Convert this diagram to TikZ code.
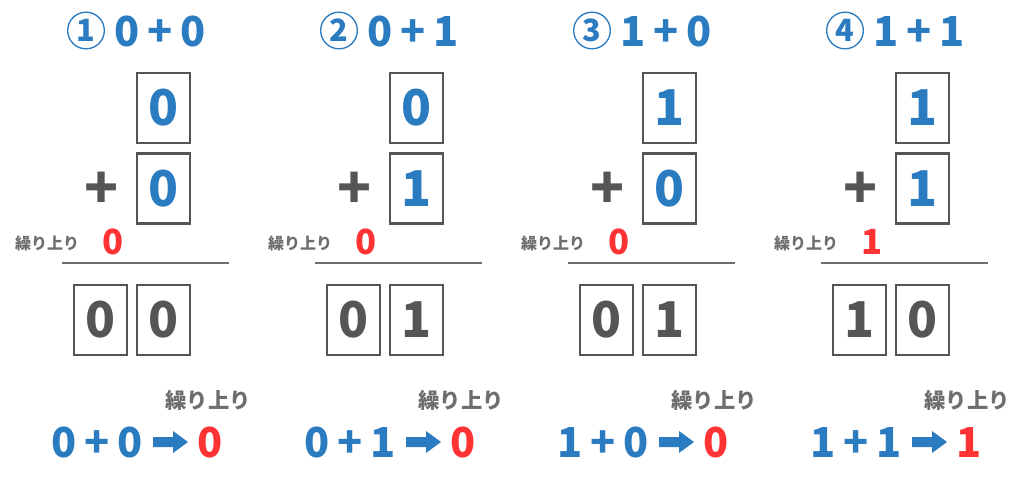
\documentclass[tikz,border=0pt]{standalone}
\usepackage{fontspec}
\setmainfont{Noto Sans CJK JP}
\usepackage{tikz}
\definecolor{bitblue}{RGB}{42,123,192}
\definecolor{bitred}{RGB}{255,51,51}
\definecolor{boxgray}{RGB}{85,85,85}
\definecolor{labelgray}{RGB}{110,110,110}
\newcommand{\tgap}{\hspace{6pt}}
\newcommand{\egap}{\hspace{6pt}}

\begin{document}
\begin{tikzpicture}[x=0.75pt, y=-0.75pt,
	num/.style={draw=bitblue, circle, line width=1pt, minimum size=27.5pt, inner sep=0pt, text=bitblue, font=\bfseries\fontsize{23}{23}\selectfont},
	title/.style={anchor=west, inner sep=0pt, text=bitblue, font=\bfseries\fontsize{31}{31}\selectfont},
	box/.style={draw=boxgray, line width=2.2pt, minimum width=39.75pt, minimum height=52.5pt, inner sep=0pt, font=\bfseries\fontsize{37}{37}\selectfont},
	bit/.style={box, text=bitblue},
	res/.style={box, text=boxgray},
	plus/.style={inner sep=0pt, text=boxgray, font=\bfseries\fontsize{42}{42}\selectfont},
	small/.style={inner sep=0pt, text=labelgray, font=\bfseries\fontsize{12}{12}\selectfont},
	big/.style={inner sep=0pt, text=labelgray, font=\bfseries\fontsize{16}{16}\selectfont},
	carry/.style={inner sep=0pt, text=bitred, font=\bfseries\fontsize{26}{26}\selectfont},
	eq/.style={inner sep=0pt, text=bitblue, font=\bfseries\fontsize{31}{31}\selectfont},
	sum/.style={inner sep=0pt, text=bitred, font=\bfseries\fontsize{31}{31}\selectfont},
	rule/.style={draw=labelgray, line width=1.5pt}]
	\useasboundingbox (0,0) rectangle (1024,477);

	% 0 + 0
	\node[num] (c1) at (86,30.5) {1};
	\node[title] (t1) at (114,31) {0\tgap+\tgap0};
	\node[bit] (a1) at (163.5,108) {0};
	\node[bit] (b1) at (163.5,188.5) {0};
	\node[plus] (p1) at (102,190) {+};
	\node[small] (k1) at (47,243) {繰り上り};
	\node[carry] (r1) at (113,242) {0};
	\coordinate (l1) at (62,263);
	\coordinate (m1) at (229,263);
	\node[res] (s1) at (100.5,320) {0};
	\node[res] (u1) at (163.5,320) {0};
	\node[big] (g1) at (208,400) {繰り上り};
	\node[eq] (e1) at (97,442) {0\egap+\egap0};
	\node[sum] (o1) at (210,442) {0};
	\draw[rule] (l1) -- (m1);
	\fill[bitblue] (153,437) -- (173,437) -- (173,431) -- (188,442) -- (173,453) -- (173,447) -- (153,447) -- cycle;

	% 0 + 1
	\node[num] (c2) at (339,30.5) {2};
	\node[title] (t2) at (367,31) {0\tgap+\tgap1};
	\node[bit] (a2) at (416.5,108) {0};
	\node[bit] (b2) at (416.5,188.5) {1};
	\node[plus] (p2) at (355,190) {+};
	\node[small] (k2) at (300,243) {繰り上り};
	\node[carry] (r2) at (366,242) {0};
	\coordinate (l2) at (315,263);
	\coordinate (m2) at (482,263);
	\node[res] (s2) at (353.5,320) {0};
	\node[res] (u2) at (416.5,320) {1};
	\node[big] (g2) at (461,400) {繰り上り};
	\node[eq] (e2) at (350,442) {0\egap+\egap1};
	\node[sum] (o2) at (463,442) {0};
	\draw[rule] (l2) -- (m2);
	\fill[bitblue] (406,437) -- (426,437) -- (426,431) -- (441,442) -- (426,453) -- (426,447) -- (406,447) -- cycle;

	% 1 + 0
	\node[num] (c3) at (592,30.5) {3};
	\node[title] (t3) at (620,31) {1\tgap+\tgap0};
	\node[bit] (a3) at (669.5,108) {1};
	\node[bit] (b3) at (669.5,188.5) {0};
	\node[plus] (p3) at (608,190) {+};
	\node[small] (k3) at (553,243) {繰り上り};
	\node[carry] (r3) at (619,242) {0};
	\coordinate (l3) at (568,263);
	\coordinate (m3) at (735,263);
	\node[res] (s3) at (606.5,320) {0};
	\node[res] (u3) at (669.5,320) {1};
	\node[big] (g3) at (714,400) {繰り上り};
	\node[eq] (e3) at (603,442) {1\egap+\egap0};
	\node[sum] (o3) at (716,442) {0};
	\draw[rule] (l3) -- (m3);
	\fill[bitblue] (659,437) -- (679,437) -- (679,431) -- (694,442) -- (679,453) -- (679,447) -- (659,447) -- cycle;

	% 1 + 1
	\node[num] (c4) at (845,30.5) {4};
	\node[title] (t4) at (873,31) {1\tgap+\tgap1};
	\node[bit] (a4) at (922.5,108) {1};
	\node[bit] (b4) at (922.5,188.5) {1};
	\node[plus] (p4) at (861,190) {+};
	\node[small] (k4) at (806,243) {繰り上り};
	\node[carry] (r4) at (872,242) {1};
	\coordinate (l4) at (821,263);
	\coordinate (m4) at (988,263);
	\node[res] (s4) at (859.5,320) {1};
	\node[res] (u4) at (922.5,320) {0};
	\node[big] (g4) at (967,400) {繰り上り};
	\node[eq] (e4) at (856,442) {1\egap+\egap1};
	\node[sum] (o4) at (969,442) {1};
	\draw[rule] (l4) -- (m4);
	\fill[bitblue] (912,437) -- (932,437) -- (932,431) -- (947,442) -- (932,453) -- (932,447) -- (912,447) -- cycle;
\end{tikzpicture}
\end{document}
